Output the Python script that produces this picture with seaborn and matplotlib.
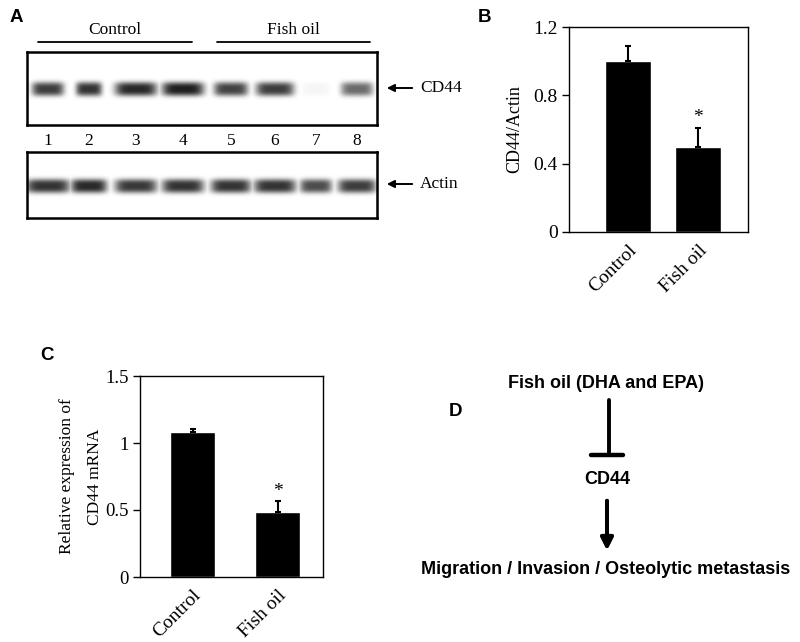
import numpy as np
import seaborn as sns
import matplotlib.pyplot as plt
from matplotlib.lines import Line2D

# data
groups = ['Control', 'Fish oil']
cd44_actin = [1.0, 0.5]
cd44_actin_err = [0.09, 0.107]
mrna = [1.08, 0.487]
mrna_err = [0.025, 0.08]

lanes = ['1', '2', '3', '4', '5', '6', '7', '8']
cd44_band = [0.76, 0.80, 0.84, 0.88, 0.74, 0.76, 0.04, 0.58]
actin_band = [0.80, 0.84, 0.78, 0.80, 0.80, 0.80, 0.70, 0.76]

# layout (pixels of an 800x642 figure)
W, H = 800, 642
lane_x = [21, 62, 109, 156, 204, 248, 289, 330]
cd44_hw = [16, 13, 21, 21, 17, 19, 14, 16]
actin_hw = [22, 18, 21, 21, 20, 21, 16, 19]

sns.set_theme(style='white')
serif = 'Liberation Serif'
sans = 'Liberation Sans'
plt.rcParams['font.family'] = [serif, 'DejaVu Serif']
plt.rcParams['text.color'] = 'black'
plt.rcParams['axes.labelcolor'] = 'black'
plt.rcParams['xtick.color'] = 'black'
plt.rcParams['ytick.color'] = 'black'


def frac(x0, y0, x1, y1):
    return [x0 / W, 1 - y1 / H, (x1 - x0) / W, (y1 - y0) / H]


def fpos(x, y):
    return (x / W, 1 - y / H)


def blot(ax, strength, half_w, h, y0, sig):
    xs = np.arange(350) + 0.5
    ys = np.arange(h) + 0.5
    img = np.zeros((h, 350))
    for cx, s, hw in zip(lane_x, strength, half_w):
        px = np.exp(-np.abs((xs - cx) / hw) ** 5)
        py = np.exp(-np.abs((ys - y0) / sig) ** 3)
        img = np.maximum(img, s * np.outer(py, px))
    img = np.clip(img, 0, 1)
    ax.imshow(img, cmap='gray_r', vmin=0, vmax=1, extent=[0, 350, h, 0],
              aspect='auto', interpolation='bilinear')
    ax.set_xlim(0, 350)
    ax.set_ylim(h, 0)
    ax.set_xticks([])
    ax.set_yticks([])
    for s in ax.spines.values():
        s.set_visible(True)
        s.set_color('black')
        s.set_linewidth(1.8)


fig = plt.figure(figsize=(8, 6.42), dpi=100)

# panel A
axA1 = fig.add_axes(frac(27, 52, 377, 125))
blot(axA1, cd44_band, cd44_hw, 73, 37, 7)
axA2 = fig.add_axes(frac(27, 152, 377, 218))
blot(axA2, actin_band, actin_hw, 66, 34, 7)

for x, lab in zip(lane_x, lanes):
    axA1.text(x, 89, lab, ha='center', va='center', fontsize=12.5, clip_on=False)

axA1.plot([11, 165], [-10, -10], color='black', lw=1.3, clip_on=False)
axA1.plot([190, 343], [-10, -10], color='black', lw=1.3, clip_on=False)
axA1.text(88, -14, 'Control', ha='center', va='bottom', fontsize=12.5)
axA1.text(266, -14, 'Fish oil', ha='center', va='bottom', fontsize=12.5)

for ax, name, yy in [(axA1, 'CD44', 36), (axA2, 'Actin', 32)]:
    ax.annotate('', xy=(357, yy), xytext=(388, yy), annotation_clip=False,
                arrowprops=dict(arrowstyle='-|>', color='black', lw=1.4,
                                mutation_scale=11))
    ax.text(393, yy, name, ha='left', va='center', fontsize=12.5)


def bars(ax, vals, errs, width, xlim, ylim, ticks, ticklabels, ylabel, star_y,
         ticksize, labelsize, labelpad):
    sns.barplot(x=groups, y=vals, color='black', saturation=1, width=width,
                errorbar=None, ax=ax)
    ax.errorbar([0, 1], vals, yerr=[[0, 0], errs], fmt='none', ecolor='black',
                elinewidth=1.5, capsize=2, capthick=1.5)
    ax.text(1, star_y, '*', ha='center', va='center', fontsize=14)
    ax.set_xlim(*xlim)
    ax.set_ylim(*ylim)
    ax.set_yticks(ticks)
    ax.set_yticklabels(ticklabels, fontsize=ticksize)
    ax.set_xticks([0, 1])
    ax.set_xticklabels(groups, fontsize=14, rotation=45, ha='right',
                       va='top', rotation_mode='anchor')
    ax.set_xlabel('')
    ax.set_ylabel(ylabel, fontsize=labelsize, linespacing=2.0,
                  labelpad=labelpad)
    ax.tick_params(axis='y', direction='out', length=5, width=1, left=True,
                   color='black', pad=3)
    ax.tick_params(axis='x', length=0, pad=7)
    for s in ax.spines.values():
        s.set_visible(True)
        s.set_color('black')
        s.set_linewidth(1)


# panel B
axB = fig.add_axes(frac(569, 27, 748, 232))
bars(axB, cd44_actin, cd44_actin_err, 0.65, (-0.84, 1.71), (0, 1.2),
     [0, 0.4, 0.8, 1.2], ['0', '0.4', '0.8', '1.2'], 'CD44/Actin', 0.67,
     14, 13, 7)

# panel C
axC = fig.add_axes(frac(140, 376, 323, 577))
bars(axC, mrna, mrna_err, 0.53, (-0.62, 1.535), (0, 1.5),
     [0, 0.5, 1, 1.5], ['0', '0.5', '1', '1.5'],
     'Relative expression of\nCD44 mRNA', 0.64, 13.5, 12.5, 2)

# panel labels
for lab, x, y in [('A', 16, 17), ('B', 485, 18), ('C', 47, 356), ('D', 456, 411)]:
    fig.text(*fpos(x, y), lab, ha='center', va='center', fontsize=13.5,
             fontweight='bold', family=sans)

# panel D
fig.text(*fpos(606, 383), 'Fish oil (DHA and EPA)', ha='center', va='center',
         fontsize=13, fontweight='bold', family=sans)
fig.text(*fpos(607, 479), 'CD44', ha='center', va='center',
         fontsize=13, fontweight='bold', family=sans)
fig.text(*fpos(606, 570), 'Migration / Invasion / Osteolytic metastasis',
         ha='center', va='center', fontsize=13, fontweight='bold', family=sans)

x0, y0 = fpos(609, 400)
x1, y1 = fpos(609, 455)
fig.add_artist(Line2D([x0, x1], [y0, y1], color='black', lw=2.8,
                      transform=fig.transFigure))
xa, ya = fpos(591, 455)
xb, yb = fpos(623, 455)
fig.add_artist(Line2D([xa, xb], [ya, yb], color='black', lw=3.2,
                      transform=fig.transFigure))
fig.add_artist(plt.annotate('', xy=fpos(607, 553), xytext=fpos(607, 498),
                            xycoords='figure fraction',
                            textcoords='figure fraction',
                            arrowprops=dict(arrowstyle='-|>', color='black',
                                            lw=2.8, mutation_scale=18)))

fig.savefig('out.png', dpi=100)
